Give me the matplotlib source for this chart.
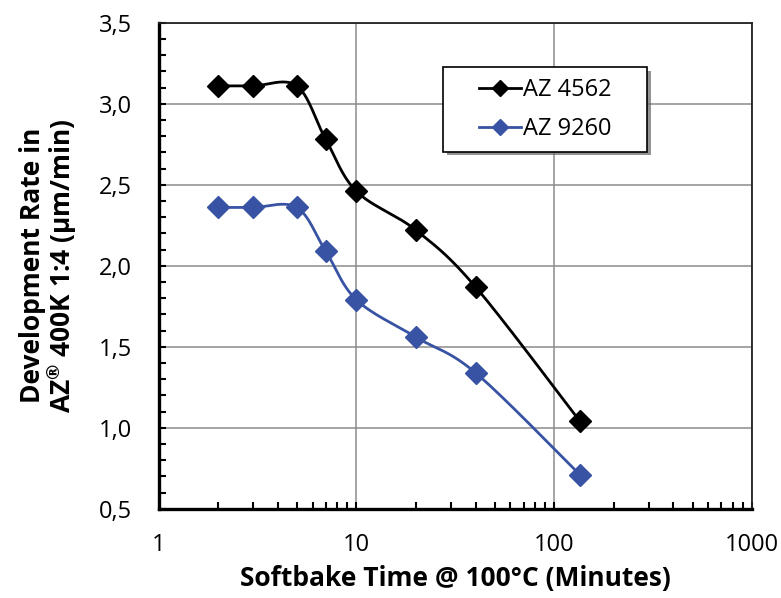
import numpy as np
import matplotlib
matplotlib.use('Agg')
import matplotlib.pyplot as plt
import matplotlib.patheffects as pe
from matplotlib.patches import Rectangle
from matplotlib.ticker import FuncFormatter, MultipleLocator, LogLocator, NullFormatter

plt.rcParams['font.family'] = ['Open Sans', 'DejaVu Sans']
plt.rcParams['mathtext.fontset'] = 'custom'
plt.rcParams['mathtext.rm'] = 'Open Sans'
plt.rcParams['mathtext.bf'] = 'Open Sans:bold'

# data
time_min = [2, 3, 5, 7, 10, 20, 40, 135]
rate_4562 = [3.11, 3.11, 3.11, 2.78, 2.46, 2.22, 1.87, 1.04]
rate_9260 = [2.36, 2.36, 2.36, 2.09, 1.79, 1.56, 1.34, 0.71]
series_names = ['AZ 4562', 'AZ 9260']
series_colors = ['#000000', '#3953a4']


def smooth(xs, ys, n=40):
    # excel-like smoothed line (bezier through the points, in log-x space)
    px = np.log10(np.array(xs, dtype=float))
    py = np.array(ys, dtype=float)
    px = np.concatenate([[px[0]], px, [px[-1]]])
    py = np.concatenate([[py[0]], py, [py[-1]]])
    out_x, out_y = [], []
    t = np.linspace(0, 1, n)
    for i in range(1, len(px) - 2):
        p0 = np.array([px[i], py[i]])
        p3 = np.array([px[i + 1], py[i + 1]])
        p1 = p0 + (p3 - np.array([px[i - 1], py[i - 1]])) / 6
        p2 = p3 - (np.array([px[i + 2], py[i + 2]]) - p0) / 6
        b = ((1 - t) ** 3)[:, None] * p0 + (3 * (1 - t) ** 2 * t)[:, None] * p1 \
            + (3 * (1 - t) * t ** 2)[:, None] * p2 + (t ** 3)[:, None] * p3
        out_x.extend(b[:, 0])
        out_y.extend(b[:, 1])
    return 10 ** np.array(out_x), np.array(out_y)


fig = plt.figure(figsize=(7.81, 5.98), dpi=100)
ax = fig.add_axes([0.203, 0.149, 0.760, 0.813])

for ys, name, c in zip([rate_4562, rate_9260], series_names, series_colors):
    sx, sy = smooth(time_min, ys)
    ax.plot(sx, sy, color=c, lw=2.0, zorder=3)
    ax.plot(time_min, ys, ls='none', marker='D', ms=11.5, color=c, zorder=4)
    # legend handle
    ax.plot([], [], color=c, lw=2.0, marker='D', ms=8.5, label=name)

ax.set_xscale('log')
ax.set_xlim(1, 1000)
ax.set_ylim(0.5, 3.5)
ax.yaxis.set_major_locator(MultipleLocator(0.5))
ax.yaxis.set_minor_locator(MultipleLocator(0.1))
ax.xaxis.set_major_locator(LogLocator(base=10))
ax.xaxis.set_minor_locator(LogLocator(base=10, subs=np.arange(2, 10)))
ax.xaxis.set_minor_formatter(NullFormatter())
ax.xaxis.set_major_formatter(FuncFormatter(lambda v, p: f'{v:g}'))
ax.yaxis.set_major_formatter(FuncFormatter(lambda v, p: f'{v:.1f}'.replace('.', ',')))

ax.grid(True, which='major', color='#8c8c8c', lw=1.1, zorder=1)
ax.tick_params(which='both', direction='in', length=5, width=1.5, color='black',
               top=False, right=False, labelsize=17)
ax.tick_params(axis='y', pad=19)
ax.tick_params(axis='x', pad=17)

for side in ['left', 'bottom']:
    ax.spines[side].set_linewidth(2.4)
    ax.spines[side].set_color('black')
for side in ['top', 'right']:
    ax.spines[side].set_linewidth(1.3)
    ax.spines[side].set_color('#222222')

ax.set_xlabel('Softbake Time @ 100°C (Minutes)', fontsize=19, fontweight='bold', labelpad=6)
ax.set_ylabel('Development Rate in\nAZ$^{\\mathbf{®}}$ 400K 1:4 (µm/min)', fontsize=19,
              fontweight='bold', labelpad=14, linespacing=0.95)

# legend box drawn separately so the padding matches the original
box = Rectangle((0.48, 0.735), 0.343, 0.173, transform=ax.transAxes,
                facecolor='white', edgecolor='black', lw=1.2, zorder=5)
box.set_path_effects([pe.SimplePatchShadow(offset=(2.5, -2.5), shadow_rgbFace='#666666', alpha=0.7),
                      pe.Normal()])
ax.add_patch(box)
leg = ax.legend(loc='center', bbox_to_anchor=(0.48 + 0.343 / 2, 0.735 + 0.173 / 2),
                fontsize=17, frameon=False, handlelength=1.8, labelspacing=0.65,
                handletextpad=0.1, borderpad=0, borderaxespad=0)
leg.set_zorder(6)

fig.savefig('out.png', dpi=100)
